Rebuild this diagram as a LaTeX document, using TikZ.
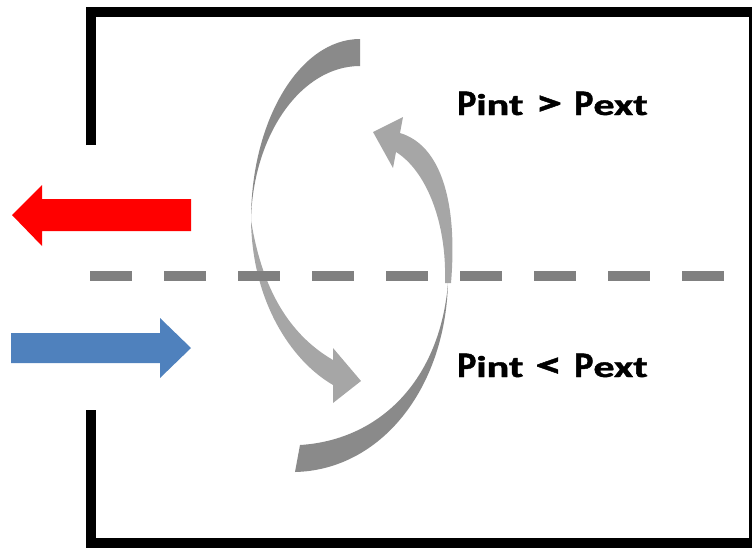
\documentclass[tikz,border=0pt]{standalone}
\usepackage{fontspec}
\setmainfont{Carlito}[BoldFeatures={FakeBold=1.2}]
\definecolor{darkarc}{HTML}{8A8A8A}
\definecolor{lightarc}{HTML}{A6A6A6}
\definecolor{dashgray}{HTML}{808080}
\definecolor{outred}{HTML}{FF0000}
\definecolor{inblue}{HTML}{4F81BD}
\tikzset{
  frame/.style={line width=10pt, line join=miter},
  dashline/.style={dashgray, line width=10pt, dash pattern=on 42pt off 32pt},
  big/.style={font=\fontsize{36}{40}\selectfont\bfseries},
}
\newcommand{\lowpart}[1]{\scalebox{1.4}[1]{\fontsize{30}{34}\selectfont #1}}
\newcommand{\relsign}[1]{\hspace{12pt}\scalebox{1.5}[1]{#1}\hspace{12pt}}
\begin{document}
\begin{tikzpicture}[x=1pt,y=-1pt]
\useasboundingbox (0,0) rectangle (752,547);
% frame with openings
\draw[frame] (91,145) -- (91,12) -- (754,12) -- (754,543) -- (91,543) -- (91,410);
% left curved arrow: dark tail
\fill[darkarc] (360,39) .. controls (300,39) and (251,120) .. (251,220)
  .. controls (253,135) and (301,66) .. (360,66) -- cycle;
% left curved arrow: light shaft and head
\fill[lightarc] (251,220) .. controls (252,300) and (290,360) .. (333,385)
  -- (333,403) -- (361,381) -- (333,348) -- (333,360)
  .. controls (290,335) and (262,290) .. (251,220) -- cycle;
% right curved arrow: light shaft and head
\fill[lightarc] (451,283) .. controls (458,200) and (440,145) .. (400,133)
  -- (403,117) -- (373,132) -- (393,168) -- (396,152)
  .. controls (425,170) and (447,220) .. (445,283) -- cycle;
% right curved arrow: dark tail
\fill[darkarc] (448,283) .. controls (445,390) and (380,470) .. (295,472)
  -- (300,445) .. controls (380,440) and (440,380) .. (448,283) -- cycle;
% dashed separator
\coordinate (d0) at (90,276);
\coordinate (d1) at (752,276);
\draw[dashline] (d0) -- (d1);
% red outflow arrow
\fill[outred] (191,199) -- (42,199) -- (42,185) -- (12,215) -- (42,246) -- (42,231) -- (191,231) -- cycle;
% blue inflow arrow
\fill[inblue] (11,333) -- (160,333) -- (160,318) -- (191,348) -- (160,378) -- (160,363) -- (11,363) -- cycle;
% labels
\node[big, anchor=base west, inner sep=0] (pgt) at (457,115) {P\lowpart{int}\relsign{>}P\lowpart{ext}};
\node[big, anchor=base west, inner sep=0] (plt) at (457,377) {P\lowpart{int}\relsign{<}P\lowpart{ext}};
\end{tikzpicture}
\end{document}
